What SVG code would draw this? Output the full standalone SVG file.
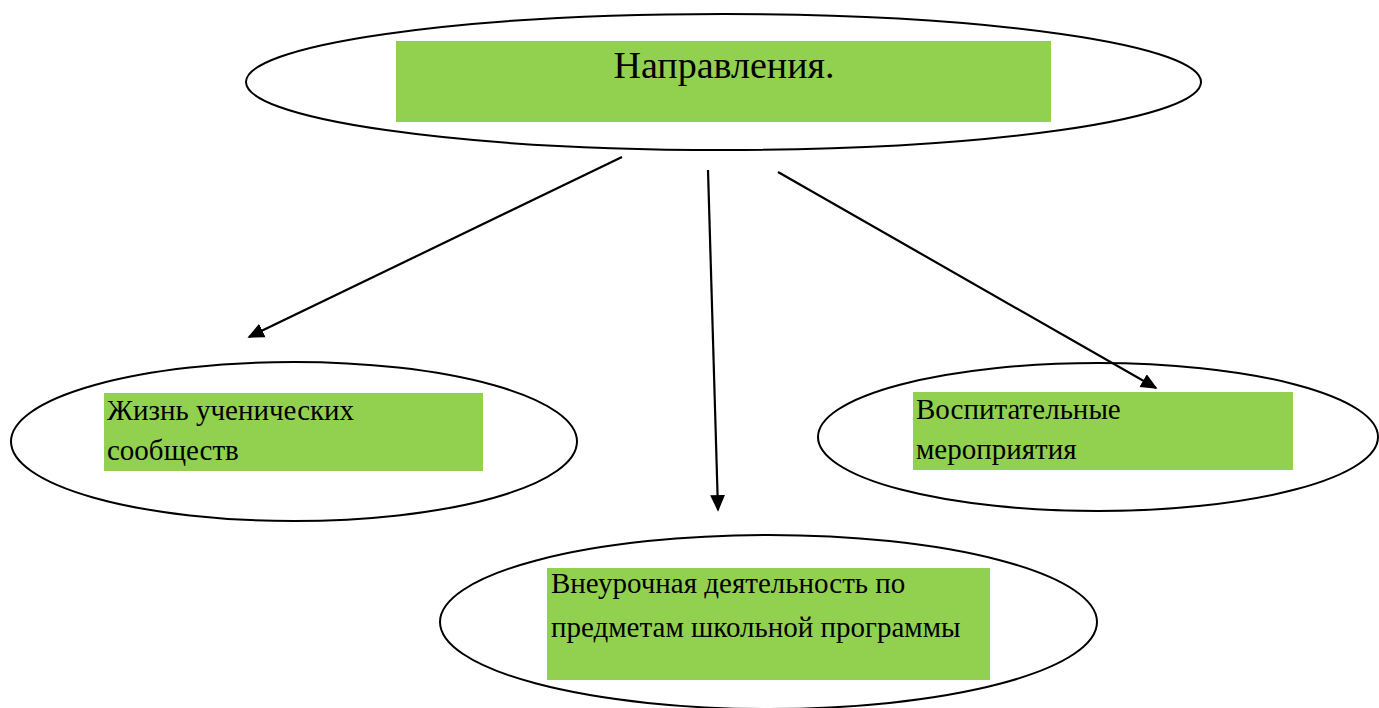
<svg xmlns="http://www.w3.org/2000/svg" width="1379" height="708" viewBox="0 0 1379 708">
<style>
.ell{fill:#fff;stroke:#000;stroke-width:2}
.box{fill:#92d050}
.t{font-family:"Liberation Serif","Times New Roman",serif;fill:#000}
.s{font-size:29px}
.c{stroke:#000;stroke-width:2.2;fill:none}
</style>
<defs>
<marker id="ah" viewBox="0 0 10 10" refX="9" refY="5" markerWidth="7.5" markerHeight="7.5" markerUnits="strokeWidth" orient="auto">
<path d="M0,0.5 L10,5 L0,9.5 z" fill="#000"/>
</marker>
</defs>
<rect width="1379" height="708" fill="#fff"/>
<g id="node-top">
<ellipse class="ell" cx="723.5" cy="82" rx="477.5" ry="68"/>
<rect class="box" x="396" y="41" width="655" height="81"/>
<text class="t" x="724" y="78" font-size="38" text-anchor="middle">Направления.</text>
</g>
<g id="node-left">
<ellipse class="ell" cx="294" cy="441.5" rx="283" ry="79.5"/>
<rect class="box" x="104" y="393" width="379" height="78"/>
<text class="t s" x="107" y="420">Жизнь ученических</text>
<text class="t s" x="107" y="460">сообществ</text>
</g>
<g id="node-right">
<ellipse class="ell" cx="1098" cy="437" rx="280" ry="74"/>
<rect class="box" x="913" y="392" width="380" height="78"/>
<text class="t s" x="916" y="419">Воспитательные</text>
<text class="t s" x="916" y="459">мероприятия</text>
</g>
<g id="node-bottom">
<ellipse class="ell" cx="768.5" cy="622" rx="328.5" ry="87"/>
<rect class="box" x="547" y="568" width="443" height="112"/>
<text class="t s" x="551" y="593">Внеурочная деятельность по</text>
<text class="t s" x="551" y="637">предметам школьной программы</text>
</g>
<g id="connectors">
<line class="c" x1="622" y1="157" x2="249" y2="337" marker-end="url(#ah)"/>
<line class="c" x1="708" y1="170" x2="718" y2="510" marker-end="url(#ah)"/>
<line class="c" x1="778" y1="172" x2="1156" y2="388" marker-end="url(#ah)"/>
</g>
</svg>
